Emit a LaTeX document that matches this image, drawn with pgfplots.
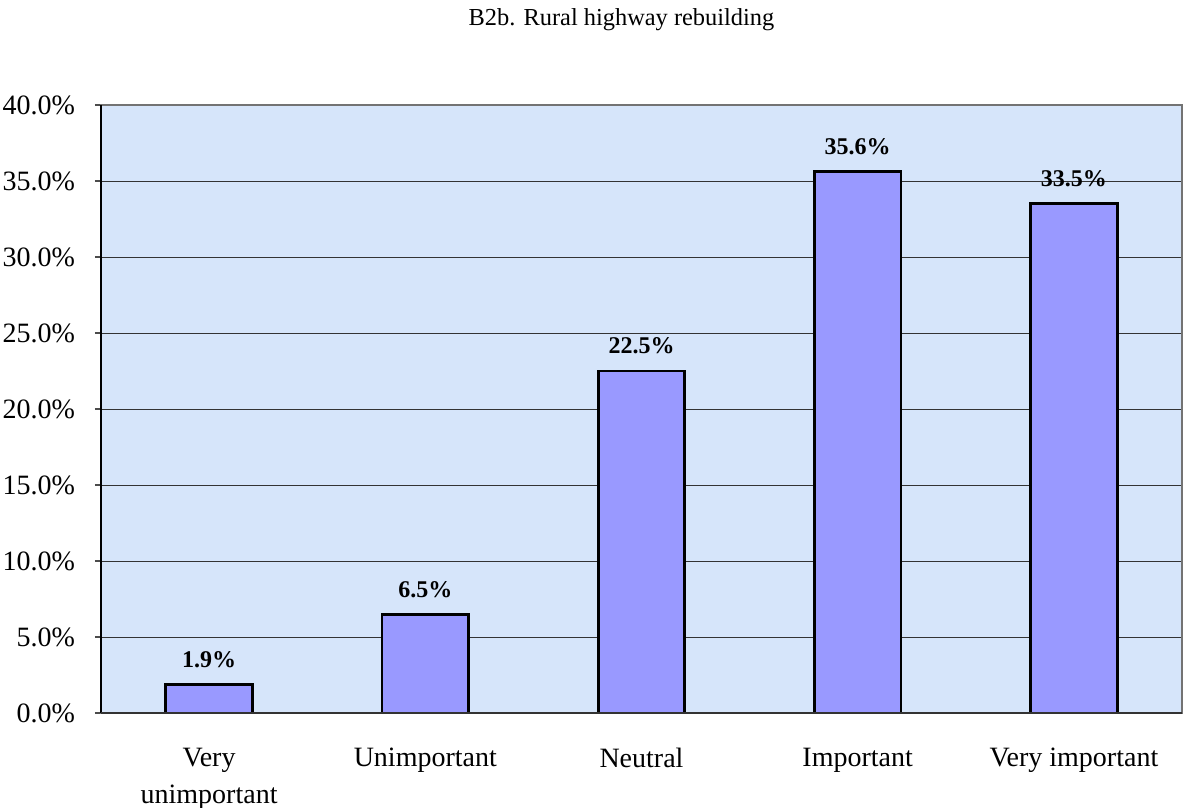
\documentclass[border=0pt]{standalone}
\usepackage{fontspec}
\setmainfont{Liberation Serif}
\usepackage{pgfplots}
\pgfplotsset{compat=1.18}
\definecolor{plotbg}{RGB}{214,229,250}
\definecolor{barfill}{RGB}{153,153,255}

\begin{document}
\begin{tikzpicture}
\begin{axis}[
  scale only axis,
  width=540.5pt, height=304pt,
  xmin=-0.5, xmax=4.5,
  ymin=0, ymax=40,
  ytick={0,5,...,40},
  xtick={0,1,2,3,4},
  xticklabels={{Very\\unimportant},Unimportant,Neutral,Important,Very important},
  extra x ticks={-0.5,0.5,1.5,2.5,3.5,4.5},
  extra x tick labels={},
  extra x tick style={major tick length=4pt, tick style={black!70, line width=0.6pt}, grid=none},
  major x tick style={draw=none},
  tick align=outside,
  major tick length=3pt,
  y tick style={black!70, line width=0.6pt},
  xtick pos=bottom, ytick pos=left,
  ymajorgrids, grid style={black!80, line width=0.4pt},
  axis background/.style={fill=plotbg},
  axis line style={black!55, line width=0.8pt},
  /pgf/number format/assume math mode=true,
  yticklabel={\pgfmathprintnumber[fixed,fixed zerofill,precision=1]{\tick}\%},
  yticklabel style={font=\fontsize{14}{16}\selectfont, xshift=-6.5pt},
  xticklabel style={font=\fontsize{14}{18.5}\selectfont, align=center, yshift=-11pt},
  ybar, bar width=0.4,
  nodes near coords={\pgfmathprintnumber[fixed,fixed zerofill,precision=1]{\pgfplotspointmeta}\%},
  nodes near coords style={font=\fontsize{12}{14}\selectfont\bfseries, anchor=base, inner sep=0pt, yshift=8.5pt},
  clip=false,
]
\addplot[fill=barfill, draw=black, line width=1.4pt]
  coordinates {(0,1.9)(1,6.5)(2,22.5)(3,35.6)(4,33.5)};
\draw[black, line width=0.9pt] (axis cs:-0.5,0) -- (axis cs:-0.5,40);
\draw[black!80, line width=0.9pt] (axis cs:-0.5,0) -- (axis cs:4.5,0);
\end{axis}
\node[anchor=base, font=\fontsize{12.2}{14}\selectfont]
  at ([xshift=260.25pt, yshift=39.5pt]current axis.north west) {B2b. Rural highway rebuilding};
\pgfresetboundingbox
\useasboundingbox ([xshift=-50.5pt, yshift=-47.5pt]current axis.south west)
  rectangle ([xshift=0.5pt, yshift=52.5pt]current axis.north east);
\end{tikzpicture}
\end{document}
